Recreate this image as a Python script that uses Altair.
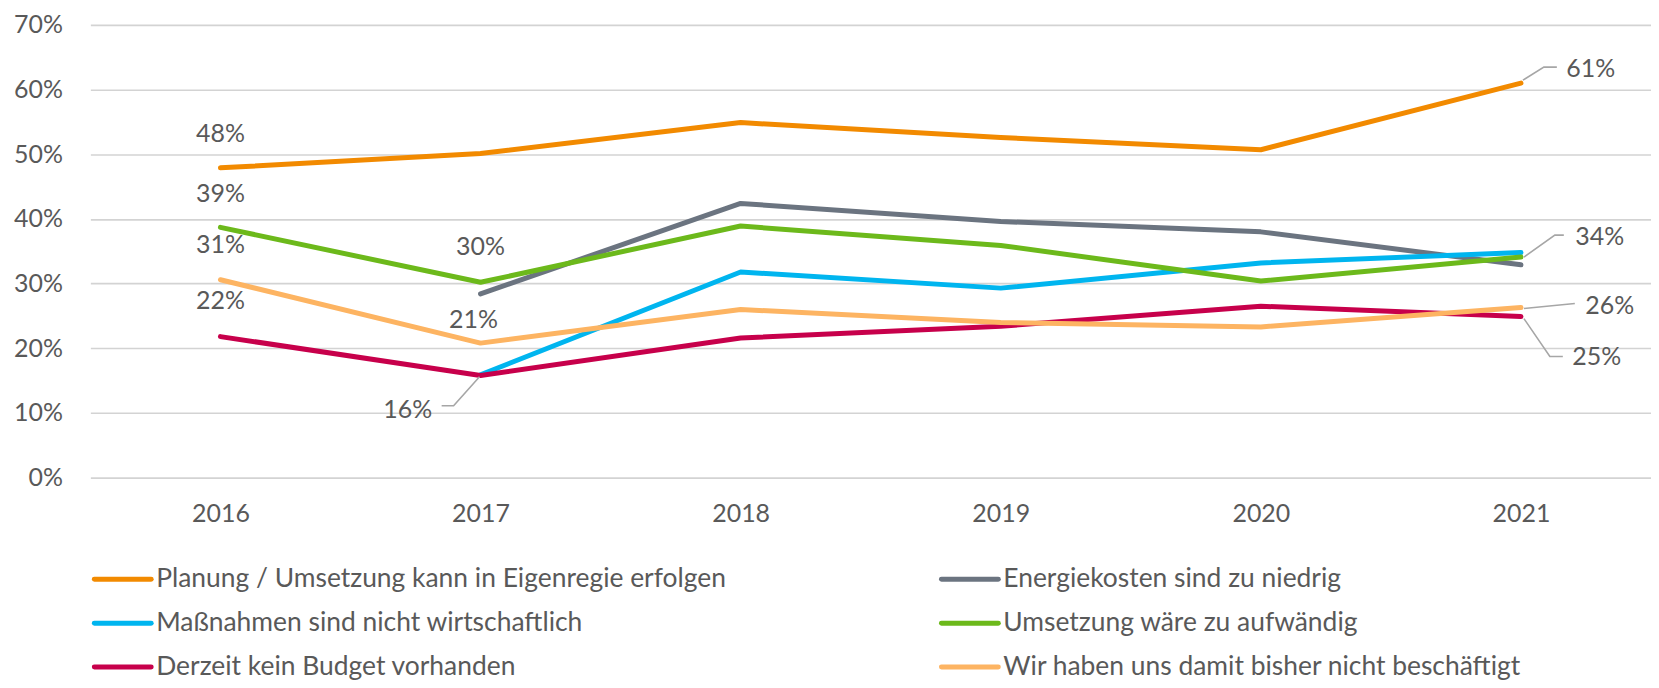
import altair as alt
import pandas as pd

# ---------------- data ----------------
years = [2016, 2017, 2018, 2019, 2020, 2021]
series = [
    "Planung / Umsetzung kann in Eigenregie erfolgen",
    "Energiekosten sind zu niedrig",
    "Maßnahmen sind nicht wirtschaftlich",
    "Umsetzung wäre zu aufwändig",
    "Derzeit kein Budget vorhanden",
    "Wir haben uns damit bisher nicht beschäftigt",
]
planung = [47.9, 50.1, 54.9, 52.6, 50.7, 61.0]
energie = [None, 28.4, 42.4, 39.6, 38.0, 32.9]
massnahmen = [None, 15.9, 31.8, 29.3, 33.2, 34.8]
umsetzung = [38.7, 30.2, 38.9, 35.9, 30.4, 34.1]
budget = [21.8, 15.8, 21.6, 23.4, 26.5, 24.9]
wir = [30.6, 20.8, 26.0, 24.0, 23.3, 26.3]
values = [planung, energie, massnahmen, umsetzung, budget, wir]
y_ticks = [0, 0.1, 0.2, 0.3, 0.4, 0.5, 0.6, 0.7]

# ---------------- style ----------------
colors = ["#F28A00", "#6B7480", "#00B5EF", "#6CB91B", "#C7004B", "#FDB462"]
FONT = "Lato"
TXT = "#595959"
W, H = 1565, 454
XDOM = [2015.5, 2021.5]
YDOM = [0, 0.7]
px_x = W / (XDOM[1] - XDOM[0])
px_y = H / (YDOM[1] - YDOM[0])

rows = []
for s, vals in zip(series, values):
    for yr, v in zip(years, vals):
        if v is not None:
            rows.append({"series": s, "year": yr, "value": v / 100})
df = pd.DataFrame(rows)

x_enc = alt.X("year:Q", scale=alt.Scale(domain=XDOM, nice=False, zero=False),
              axis=alt.Axis(values=years, format="d", title=None, grid=False,
                            domain=False, ticks=False, labelPadding=24,
                            labelFontSize=25, labelColor=TXT, labelFont=FONT))
y_enc = alt.Y("value:Q", scale=alt.Scale(domain=YDOM, nice=False),
              axis=alt.Axis(values=y_ticks, format=".0%", title=None, grid=True,
                            gridColor="#D3D3D3", gridWidth=1.6, domain=False,
                            ticks=False, labelPadding=28, labelFontSize=25,
                            labelColor=TXT, labelFont=FONT))
color_enc = alt.Color("series:N", scale=alt.Scale(domain=series, range=colors), legend=None)

lines = alt.Chart(df).mark_line(strokeWidth=5, strokeCap="round", strokeJoin="round").encode(
    x=x_enc, y=y_enc, color=color_enc, order="year:Q"
)

layers = [lines]

# data labels: (series index, year, dx, dy, leader offsets in px)
labels = [
    (0, 2016, 0, -34, None),
    (3, 2016, 0, -33, None),
    (5, 2016, 0, -35, None),
    (4, 2016, 0, -36, None),
    (3, 2017, 0, -35, None),
    (5, 2017, -7, -23, None),
    (2, 2017, -73, 35, [(-1, 2), (-27, 31), (-39, 31)]),
    (0, 2021, 70, -14, [(2, -3), (23, -16), (36, -16)]),
    (3, 2021, 79, -20, [(3, 0), (34, -22), (43, -22)]),
    (5, 2021, 89, -2, [(3, 1), (54, -4)]),
    (4, 2021, 76, 41, [(3, 2), (29, 40), (42, 40)]),
]
leader_rows = []
for k, (si, yr, dx, dy, lead) in enumerate(labels):
    v = values[si][years.index(yr)] / 100
    ldf = pd.DataFrame([{"year": yr, "value": v}])
    layers.append(
        alt.Chart(ldf).mark_text(dx=dx, dy=dy, fontSize=25, font=FONT, color=TXT).encode(
            x="year:Q", y="value:Q", text=alt.Text("value:Q", format=".0%")
        )
    )
    if lead:
        for j, (ox, oy) in enumerate(lead):
            leader_rows.append({"lab": k, "o": j, "year": yr + ox / px_x, "value": v - oy / px_y})

layers.append(
    alt.Chart(pd.DataFrame(leader_rows)).mark_line(color="#A6A6A6", strokeWidth=1.6).encode(
        x="year:Q", y="value:Q", detail="lab:N", order="o:Q"
    )
)

# manual legend (2 columns x 3 rows)
for i, (s, c) in enumerate(zip(series, colors)):
    col, row = i % 2, i // 2
    x0 = 4 + col * 849.5
    yy = 556 + row * 44
    one = pd.DataFrame({"a": [0]})
    layers.append(alt.Chart(one).mark_rule(color=c, strokeWidth=5, strokeCap="round").encode(
        x=alt.value(x0), x2=alt.value(x0 + 57), y=alt.value(yy)))
    layers.append(alt.Chart(one).mark_text(text=s, align="left", baseline="middle",
                                           fontSize=26.5, font=FONT, color=TXT).encode(
        x=alt.value(x0 + 62), y=alt.value(yy)))

chart = alt.layer(*layers).properties(
    width=W, height=H,
    autosize=alt.AutoSizeParams(type="none"),
    padding={"left": 82.6, "top": 16, "right": 0, "bottom": 202},
).configure_view(stroke=None)

chart.save("out.html", embed_options={"renderer": "svg", "actions": False})
